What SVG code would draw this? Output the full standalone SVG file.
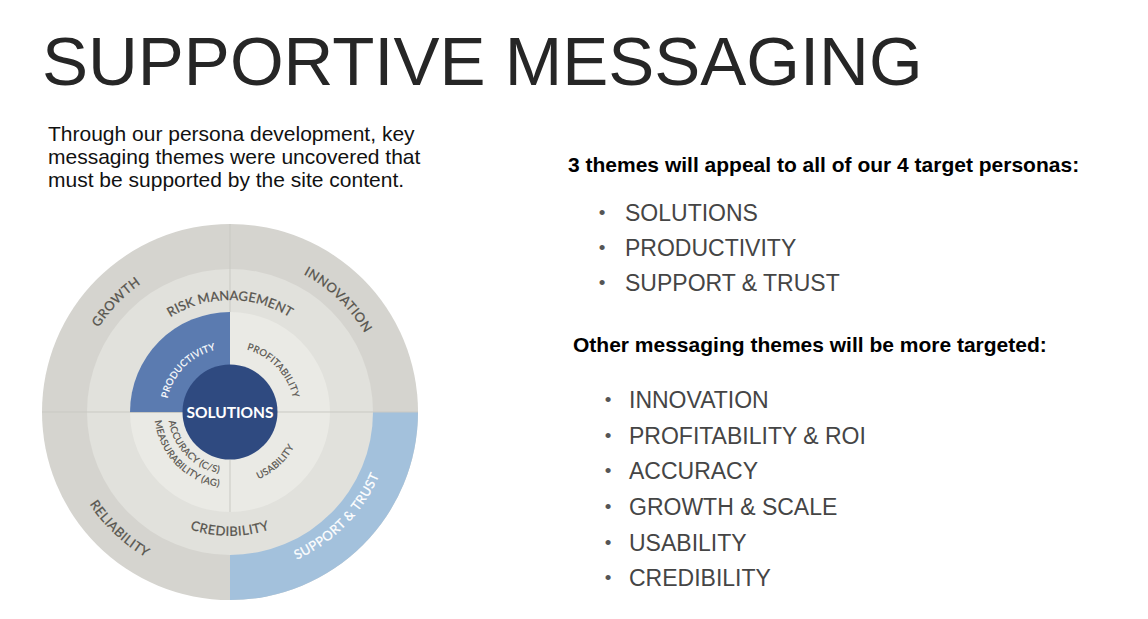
<svg xmlns="http://www.w3.org/2000/svg" xmlns:xlink="http://www.w3.org/1999/xlink" width="1148" height="619" viewBox="0 0 1148 619">
<style>
.title{font-family:"Liberation Sans",Arial,sans-serif;font-size:69px;fill:#262626}
.para{font-family:"Liberation Sans",Arial,sans-serif;font-size:21px;fill:#111}
.head{font-family:"Liberation Sans",Arial,sans-serif;font-size:21px;font-weight:bold;fill:#000}
.item{font-family:"Liberation Sans",Arial,sans-serif;font-size:23px;fill:#454545}
.bul{font-family:"Liberation Sans",Arial,sans-serif;font-size:19px;fill:#555;text-anchor:middle}
.lbl{font-family:Lato,"Open Sans",sans-serif;font-size:13px;fill:#57544e;stroke:#57544e;stroke-width:0.25px;letter-spacing:0.5px}
.sm{font-family:Lato,"Open Sans",sans-serif;font-size:9.5px;fill:#57544e;stroke:#57544e;stroke-width:0.2px;letter-spacing:0.3px}
.wh{fill:#ffffff;stroke:#ffffff}
.div{stroke:#c9c9c3;stroke-width:1;fill:none}
</style>
<defs>
<path id="pGrowth" d="M80.0,455.0 A156,156 0 0 1 267.7,260.6"/>
<path id="pInnov" d="M187.0,262.0 A156,156 0 0 1 381.4,449.7"/>
<path id="pRisk" d="M119.7,392.6 A112,112 0 0 1 340.3,392.6"/>
<path id="pCred" d="M107.9,433.5 A124,124 0 0 0 352.1,433.5"/>
<path id="pRel" d="M66.6,373.1 A168,168 0 0 0 278.0,573.0"/>
<path id="pSup" d="M190.0,569.0 A162,162 0 0 0 386.0,368.2"/>
<path id="pProd" d="M168.3,428.9 A64,64 0 0 1 246.2,350.1"/>
<path id="pProf" d="M214.7,349.3 A64.5,64.5 0 0 1 291.9,430.1"/>
<path id="pUsa" d="M207.8,481.5 A73,73 0 0 0 301.3,396.5"/>
<path id="pAcc" d="M170.4,395.1 A62,62 0 0 0 245.2,472.1"/>
<path id="pMeas" d="M157.3,391.4 A75.5,75.5 0 0 0 248.5,485.2"/>
</defs>
<rect width="1148" height="619" fill="#ffffff"/>

<g id="title"><text class="title" x="42" y="85">SUPPORTIVE MESSAGING</text></g>

<g id="intro">
<text class="para" x="48" y="141">Through our persona development, key</text>
<text class="para" x="48" y="164">messaging themes were uncovered that</text>
<text class="para" x="48" y="187">must be supported by the site content.</text>
</g>

<g id="wheel">
<g id="ring-outer">
<circle cx="230" cy="412" r="188" fill="#d5d4cf"/>
<path d="M230,412 L418,412 A188,188 0 0 1 230,600 Z" fill="#a3c1dc"/>
</g>
<g id="ring-middle"><circle cx="230" cy="412" r="143" fill="#e1e1dc"/></g>
<g id="ring-inner">
<circle cx="230" cy="412" r="100" fill="#eaeae5"/>
<path d="M230,412 L130,412 A100,100 0 0 1 230,312 Z" fill="#5b7bb0"/>
</g>
<g id="dividers">
<line class="div" x1="230" y1="224" x2="230" y2="312"/>
<line class="div" x1="230" y1="460" x2="230" y2="512"/>
<line class="div" x1="42" y1="412" x2="130" y2="412"/>
<line class="div" x1="130" y1="412.5" x2="185" y2="412.5"/>
<line class="div" x1="275" y1="412" x2="418" y2="412"/>
</g>
<g id="center"><circle cx="230" cy="412" r="47.5" fill="#2f4a80"/>
<text x="230" y="417.5" text-anchor="middle" font-family="Lato,'Open Sans',sans-serif" font-size="15.5" font-weight="bold" fill="#ffffff">SOLUTIONS</text></g>

<g id="label-growth"><text class="lbl"><textPath xlink:href="#pGrowth" href="#pGrowth" startOffset="50%" text-anchor="middle">GROWTH</textPath></text></g>
<g id="label-innovation"><text class="lbl"><textPath xlink:href="#pInnov" href="#pInnov" startOffset="50%" text-anchor="middle">INNOVATION</textPath></text></g>
<g id="label-risk"><text class="lbl" style="letter-spacing:0.1px"><textPath xlink:href="#pRisk" href="#pRisk" startOffset="50%" text-anchor="middle">RISK MANAGEMENT</textPath></text></g>
<g id="label-credibility"><text class="lbl"><textPath xlink:href="#pCred" href="#pCred" startOffset="50%" text-anchor="middle">CREDIBILITY</textPath></text></g>
<g id="label-reliability"><text class="lbl"><textPath xlink:href="#pRel" href="#pRel" startOffset="50%" text-anchor="middle">RELIABILITY</textPath></text></g>
<g id="label-support"><text class="lbl wh"><textPath xlink:href="#pSup" href="#pSup" startOffset="50%" text-anchor="middle">SUPPORT &amp; TRUST</textPath></text></g>
<g id="label-productivity"><text class="sm wh"><textPath xlink:href="#pProd" href="#pProd" startOffset="50%" text-anchor="middle">PRODUCTIVITY</textPath></text></g>
<g id="label-profitability"><text class="sm"><textPath xlink:href="#pProf" href="#pProf" startOffset="50%" text-anchor="middle">PROFITABILITY</textPath></text></g>
<g id="label-usability"><text class="sm"><textPath xlink:href="#pUsa" href="#pUsa" startOffset="50%" text-anchor="middle">USABILITY</textPath></text></g>
<g id="label-accuracy">
<text class="sm"><textPath xlink:href="#pAcc" href="#pAcc" startOffset="50%" text-anchor="middle">ACCURACY (C/S)</textPath></text>
<text class="sm"><textPath xlink:href="#pMeas" href="#pMeas" startOffset="50%" text-anchor="middle">MEASURABILITY (AG)</textPath></text>
</g>
</g>

<g id="list-all">
<text class="head" x="568" y="172">3 themes will appeal to all of our 4 target personas:</text>
<text class="bul" x="602" y="219">•</text><text class="item" x="625" y="221">SOLUTIONS</text>
<text class="bul" x="602" y="254">•</text><text class="item" x="625" y="256">PRODUCTIVITY</text>
<text class="bul" x="602" y="289">•</text><text class="item" x="625" y="291">SUPPORT &amp; TRUST</text>
</g>

<g id="list-targeted">
<text class="head" x="573" y="352">Other messaging themes will be more targeted:</text>
<text class="bul" x="608" y="406">•</text><text class="item" x="629" y="408">INNOVATION</text>
<text class="bul" x="608" y="442">•</text><text class="item" x="629" y="444">PROFITABILITY &amp; ROI</text>
<text class="bul" x="608" y="477">•</text><text class="item" x="629" y="479">ACCURACY</text>
<text class="bul" x="608" y="513">•</text><text class="item" x="629" y="515">GROWTH &amp; SCALE</text>
<text class="bul" x="608" y="549">•</text><text class="item" x="629" y="551">USABILITY</text>
<text class="bul" x="608" y="584">•</text><text class="item" x="629" y="586">CREDIBILITY</text>
</g>
</svg>
